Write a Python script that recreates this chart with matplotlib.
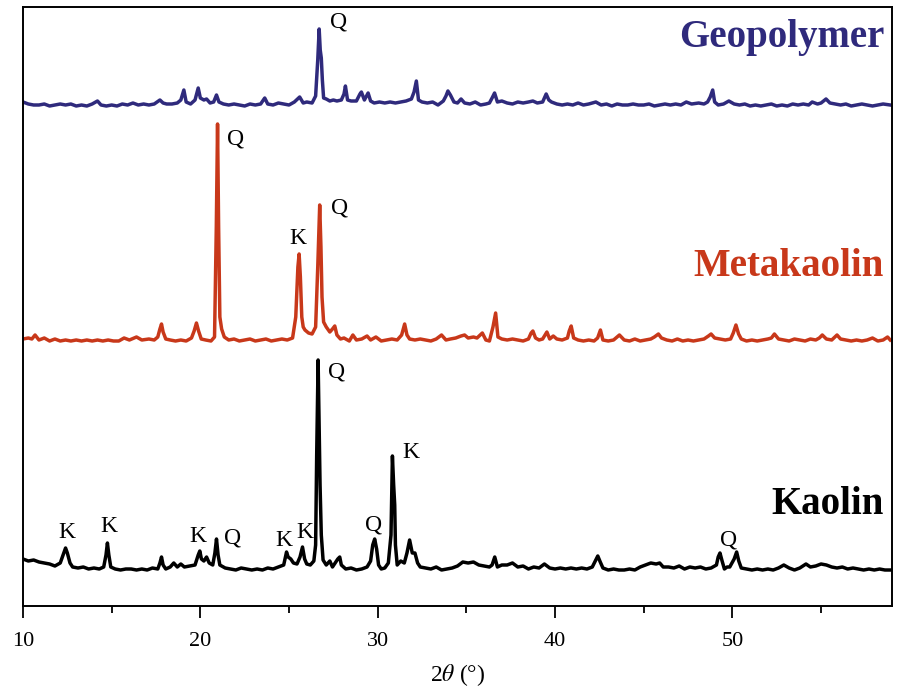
import matplotlib
matplotlib.use('Agg')
import matplotlib.pyplot as plt
import matplotlib.transforms as mtransforms
import numpy as np

plt.rcParams['font.family'] = ['Liberation Serif', 'DejaVu Serif']
plt.rcParams['mathtext.fontset'] = 'stix'

# XRD patterns: (2theta, intensity a.u. above trace zero)
kaolin = [
    (10.0, 16), (10.3, 14), (10.6, 15), (10.9, 13), (11.2, 12), (11.5, 11), (11.8, 9),
    (12.1, 12), (12.3, 22), (12.4, 27), (12.5, 22), (12.65, 12), (12.8, 8), (13.1, 7),
    (13.4, 8), (13.7, 6), (14.0, 7), (14.3, 6), (14.55, 8), (14.68, 20), (14.76, 32),
    (14.84, 20), (14.95, 8), (15.2, 6), (15.5, 5), (15.8, 6), (16.1, 6), (16.4, 5),
    (16.7, 6), (17.0, 5), (17.3, 7), (17.6, 6), (17.72, 12), (17.81, 18), (17.9, 10),
    (18.05, 6), (18.3, 8), (18.5, 12), (18.7, 8), (18.9, 11), (19.1, 8), (19.4, 9),
    (19.7, 10), (19.88, 20), (19.97, 24), (20.06, 16), (20.2, 14), (20.35, 18),
    (20.5, 12), (20.7, 10), (20.82, 22), (20.91, 36), (21.0, 20), (21.1, 10), (21.4, 7),
    (21.7, 6), (22.0, 5), (22.3, 7), (22.6, 6), (22.9, 5), (23.2, 6), (23.5, 5),
    (23.8, 7), (24.1, 6), (24.4, 8), (24.7, 10), (24.86, 23), (24.95, 18), (25.1, 16),
    (25.25, 12), (25.45, 11), (25.62, 18), (25.76, 28), (25.88, 16), (26.0, 11),
    (26.2, 10), (26.4, 14), (26.5, 30), (26.56, 120), (26.64, 215), (26.7, 150),
    (26.75, 90), (26.82, 40), (26.92, 15), (27.1, 10), (27.3, 14), (27.45, 8),
    (27.6, 12), (27.75, 16), (27.86, 18), (27.95, 10), (28.2, 6), (28.5, 7), (28.8, 5),
    (29.1, 6), (29.4, 8), (29.6, 14), (29.72, 30), (29.83, 36), (29.94, 26),
    (30.05, 10), (30.2, 6), (30.4, 7), (30.6, 12), (30.75, 40), (30.83, 119),
    (30.9, 90), (30.96, 70), (31.0, 30), (31.1, 10), (31.3, 14), (31.5, 12),
    (31.65, 22), (31.8, 35), (31.95, 22), (32.1, 22), (32.25, 12), (32.4, 8),
    (32.7, 7), (33.0, 6), (33.3, 8), (33.6, 5), (33.9, 6), (34.2, 7), (34.5, 9),
    (34.8, 13), (35.1, 12), (35.4, 13), (35.7, 10), (36.0, 9), (36.3, 8), (36.45, 10),
    (36.6, 18), (36.75, 8), (37.0, 10), (37.3, 10), (37.6, 12), (37.9, 8), (38.2, 9),
    (38.5, 6), (38.8, 8), (39.1, 7), (39.4, 11), (39.7, 7), (40.0, 6), (40.3, 7),
    (40.6, 6), (40.9, 7), (41.2, 6), (41.5, 7), (41.8, 6), (42.1, 8), (42.3, 15),
    (42.41, 19), (42.55, 13), (42.7, 7), (43.0, 5), (43.3, 6), (43.6, 5), (43.9, 5),
    (44.2, 6), (44.5, 5), (44.8, 8), (45.1, 10), (45.4, 12), (45.7, 11), (45.9, 12),
    (46.1, 8), (46.4, 8), (46.7, 7), (47.0, 9), (47.3, 6), (47.6, 8), (47.9, 7),
    (48.2, 8), (48.5, 6), (48.8, 7), (49.1, 10), (49.2, 18), (49.3, 22), (49.42, 14),
    (49.55, 6), (49.7, 8), (49.85, 8), (50.1, 16), (50.24, 23), (50.36, 14), (50.5, 7),
    (50.8, 6), (51.1, 5), (51.4, 6), (51.7, 5), (52.0, 6), (52.3, 5), (52.6, 7),
    (52.9, 10), (53.2, 7), (53.5, 5), (53.8, 7), (54.15, 11), (54.4, 8), (54.7, 9),
    (55.0, 11), (55.3, 10), (55.6, 8), (55.9, 7), (56.2, 8), (56.5, 6), (56.8, 7),
    (57.1, 6), (57.4, 5), (57.7, 6), (58.0, 5), (58.3, 6), (58.6, 5), (58.9, 5),
]

metakaolin = [
    (10.0, 8), (10.3, 9), (10.5, 8), (10.68, 12), (10.9, 7), (11.2, 9), (11.5, 6),
    (11.8, 8), (12.1, 6), (12.4, 7), (12.7, 6), (13.0, 7), (13.3, 6), (13.6, 7),
    (13.9, 6), (14.2, 7), (14.5, 6), (14.8, 7), (15.1, 6), (15.4, 6), (15.7, 9),
    (16.0, 7), (16.4, 10), (16.7, 7), (17.1, 8), (17.4, 7), (17.6, 10), (17.72, 18),
    (17.81, 23), (17.9, 15), (18.05, 8), (18.3, 7), (18.6, 6), (18.9, 7), (19.2, 6),
    (19.5, 9), (19.65, 16), (19.78, 24), (19.9, 16), (20.05, 8), (20.3, 7), (20.6, 6),
    (20.8, 10), (20.9, 120), (20.97, 223), (21.03, 120), (21.1, 30), (21.2, 18),
    (21.35, 10), (21.6, 7), (21.9, 8), (22.2, 6), (22.5, 7), (22.8, 8), (23.1, 6),
    (23.4, 7), (23.7, 8), (24.0, 6), (24.3, 7), (24.6, 8), (24.9, 7), (25.2, 9),
    (25.38, 30), (25.5, 80), (25.57, 93), (25.64, 70), (25.72, 30), (25.8, 20),
    (25.9, 17), (26.1, 14), (26.3, 13), (26.5, 20), (26.62, 80), (26.73, 142),
    (26.8, 100), (26.86, 50), (26.95, 25), (27.1, 20), (27.3, 15), (27.45, 18),
    (27.58, 21), (27.7, 12), (27.9, 8), (28.1, 9), (28.4, 6), (28.6, 12), (28.8, 7),
    (29.1, 8), (29.4, 11), (29.6, 7), (29.9, 10), (30.2, 6), (30.5, 7), (30.8, 8),
    (31.1, 7), (31.35, 12), (31.52, 23), (31.65, 12), (31.8, 8), (32.1, 7), (32.4, 8),
    (32.7, 7), (33.0, 6), (33.3, 8), (33.6, 12), (33.85, 7), (34.1, 8), (34.4, 9),
    (34.7, 11), (34.9, 12), (35.1, 9), (35.4, 10), (35.6, 9), (35.9, 14), (36.1, 7),
    (36.3, 6), (36.5, 20), (36.65, 34), (36.78, 10), (37.0, 8), (37.3, 7), (37.6, 8),
    (37.9, 7), (38.2, 6), (38.5, 8), (38.65, 14), (38.75, 16), (38.9, 9), (39.1, 7),
    (39.3, 8), (39.54, 15), (39.7, 8), (39.9, 11), (40.1, 8), (40.4, 7), (40.7, 9),
    (40.8, 16), (40.91, 21), (41.05, 9), (41.3, 7), (41.6, 6), (41.9, 7), (42.2, 6),
    (42.4, 9), (42.56, 17), (42.7, 7), (43.0, 6), (43.3, 7), (43.63, 12), (43.9, 7),
    (44.2, 6), (44.5, 8), (44.8, 6), (45.1, 7), (45.4, 8), (45.6, 10), (45.83, 13),
    (46.0, 9), (46.3, 7), (46.6, 6), (46.9, 8), (47.2, 6), (47.5, 7), (47.8, 6),
    (48.1, 7), (48.4, 8), (48.65, 11), (48.8, 13), (49.0, 9), (49.3, 8), (49.6, 7),
    (49.9, 8), (50.05, 14), (50.2, 22), (50.35, 13), (50.5, 8), (50.8, 6), (51.1, 7),
    (51.4, 6), (51.7, 7), (52.0, 8), (52.2, 9), (52.37, 13), (52.6, 8), (52.9, 7),
    (53.2, 6), (53.5, 8), (53.8, 7), (54.1, 6), (54.4, 8), (54.7, 7), (54.9, 9),
    (55.07, 12), (55.3, 8), (55.6, 7), (55.9, 12), (56.1, 8), (56.4, 7), (56.7, 6),
    (57.0, 7), (57.3, 6), (57.6, 7), (57.9, 9), (58.2, 6), (58.5, 7), (58.75, 10),
    (58.9, 7),
]

geopolymer = [
    (10.0, 8), (10.3, 6), (10.6, 5), (10.9, 5), (11.2, 6), (11.5, 4), (11.8, 5),
    (12.1, 6), (12.4, 5), (12.7, 6), (13.0, 4), (13.3, 5), (13.6, 4), (13.9, 6),
    (14.2, 9), (14.4, 5), (14.7, 4), (15.0, 5), (15.3, 4), (15.6, 6), (15.9, 5),
    (16.2, 7), (16.5, 5), (16.8, 6), (17.1, 5), (17.4, 6), (17.72, 10), (17.9, 7),
    (18.1, 6), (18.4, 6), (18.7, 7), (18.9, 10), (19.07, 20), (19.2, 8), (19.45, 6),
    (19.7, 10), (19.88, 22), (20.0, 12), (20.2, 10), (20.35, 11), (20.55, 7),
    (20.75, 8), (20.91, 15), (21.05, 8), (21.3, 6), (21.6, 5), (21.9, 6), (22.2, 5),
    (22.5, 4), (22.8, 6), (23.1, 5), (23.4, 6), (23.63, 12), (23.8, 6), (24.1, 5),
    (24.4, 7), (24.7, 6), (25.0, 5), (25.3, 8), (25.6, 13), (25.8, 7), (26.0, 8),
    (26.3, 7), (26.5, 14), (26.62, 50), (26.7, 81), (26.76, 60), (26.82, 52),
    (26.88, 30), (26.95, 12), (27.1, 11), (27.3, 9), (27.5, 10), (27.7, 9),
    (27.95, 10), (28.1, 16), (28.18, 24), (28.3, 10), (28.5, 9), (28.8, 9), (29.0, 16),
    (29.08, 18), (29.25, 10), (29.46, 17), (29.6, 9), (29.8, 7), (30.1, 8), (30.4, 7),
    (30.7, 8), (31.0, 7), (31.3, 8), (31.6, 9), (31.9, 11), (32.05, 18), (32.18, 29),
    (32.3, 10), (32.5, 8), (32.8, 7), (33.1, 8), (33.4, 5), (33.7, 9), (33.85, 14),
    (33.96, 19), (34.1, 15), (34.3, 8), (34.5, 7), (34.7, 11), (34.9, 7), (35.2, 6),
    (35.5, 8), (35.8, 5), (36.1, 6), (36.3, 7), (36.45, 12), (36.59, 17), (36.75, 8),
    (37.0, 9), (37.3, 7), (37.6, 6), (37.9, 8), (38.2, 7), (38.5, 8), (38.75, 9),
    (39.0, 7), (39.3, 8), (39.4, 12), (39.5, 16), (39.65, 10), (39.8, 8), (40.1, 6),
    (40.4, 5), (40.7, 6), (41.0, 5), (41.3, 7), (41.6, 5), (41.9, 6), (42.3, 8),
    (42.6, 5), (42.9, 6), (43.2, 4), (43.5, 6), (43.8, 5), (44.1, 5), (44.4, 6),
    (44.7, 5), (45.0, 5), (45.3, 6), (45.6, 4), (45.9, 5), (46.2, 6), (46.5, 5),
    (46.8, 6), (47.1, 5), (47.4, 8), (47.7, 6), (48.1, 7), (48.4, 6), (48.6, 8),
    (48.75, 13), (48.89, 20), (49.0, 8), (49.2, 5), (49.5, 6), (49.8, 9), (50.1, 6),
    (50.4, 5), (50.7, 6), (51.0, 4), (51.3, 5), (51.6, 4), (51.9, 5), (52.2, 6),
    (52.5, 4), (52.8, 5), (53.1, 4), (53.4, 6), (53.7, 5), (54.0, 6), (54.3, 5),
    (54.5, 8), (54.8, 6), (55.0, 7), (55.28, 11), (55.5, 7), (55.8, 6), (56.1, 5),
    (56.4, 6), (56.7, 4), (57.0, 5), (57.3, 6), (57.6, 5), (57.9, 4), (58.2, 5),
    (58.5, 6), (58.9, 5),
]

# stacking offsets for each pattern
names = ['Kaolin', 'Metakaolin', 'Geopolymer']
patterns = [kaolin, metakaolin, geopolymer]
offsets = [31, 259, 496]
colors = ['#000000', '#c8381a', '#2f2a7c']
name_y = [101, 340, 569]

# phase labels: (letter, 2theta, height in a.u. on the stacked axis)
kaolin_marks = [('K', 12.48, 73), ('K', 14.85, 79), ('K', 19.86, 70), ('Q', 21.83, 68),
                ('K', 24.70, 66), ('K', 25.89, 73), ('Q', 27.69, 234), ('Q', 29.77, 81),
                ('K', 31.86, 154), ('Q', 49.77, 66)]
metakaolin_marks = [('Q', 22.0, 467), ('K', 25.49, 368), ('Q', 27.86, 398)]
geopolymer_marks = [('Q', 27.80, 584)]

fig = plt.figure(figsize=(8.97, 6.91), dpi=100)
ax = fig.add_axes([23/897, 85/691, 869/897, 599/691])

for pat, off, col in zip(patterns, offsets, colors):
    arr = np.array(pat, dtype=float)
    ax.plot(arr[:, 0], arr[:, 1] + off, color=col, lw=2.5, solid_joinstyle='round')

for marks in (kaolin_marks, metakaolin_marks, geopolymer_marks):
    for letter, tt, yy in marks:
        ax.text(tt, yy, letter, fontsize=17, ha='center', va='center', color='black')

trans = mtransforms.blended_transform_factory(ax.transAxes, ax.transData)
for nm, yy, col in zip(names, name_y, colors):
    ax.text(0.991, yy, nm, transform=trans, ha='right', va='center',
            fontsize=28, fontweight='bold', color=col)

ax.set_xlim(10, 59)
ax.set_ylim(0, 599)
ax.set_yticks([])
ax.set_xticks([10, 20, 30, 40, 50])
ax.set_xticks([15, 25, 35, 45, 55], minor=True)
ax.tick_params(axis='x', which='major', direction='out', length=8.5, width=1.3,
               labelsize=16, pad=10)
ax.tick_params(axis='x', which='minor', direction='out', length=5, width=1.3)
for sp in ax.spines.values():
    sp.set_linewidth(1.4)
ax.set_xlabel(r'2$\theta$ (°)', fontsize=17, labelpad=8)

fig.savefig('out.png', dpi=100)
